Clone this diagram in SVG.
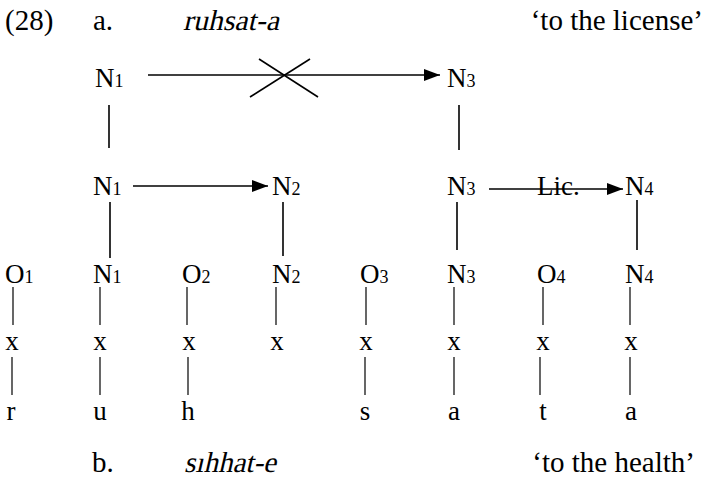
<svg xmlns="http://www.w3.org/2000/svg" width="707" height="477" viewBox="0 0 707 477">
<style>
text{font-family:"Liberation Serif","Times New Roman",serif;font-size:27px;fill:#000}
.h{font-size:29px}
.sub{font-size:18px}
.c{text-anchor:middle}
line{stroke:#000;stroke-width:1.6}
.thin{stroke-width:1.2}
</style>
<defs>
<marker id="ah" viewBox="0 0 16 12" refX="16" refY="6" markerWidth="16" markerHeight="12" markerUnits="userSpaceOnUse" orient="auto">
<path d="M0,0 L16,6 L0,12 Z" fill="#000"/>
</marker>
</defs>
<g id="heading">
<text x="5" y="30" class="h">(28)</text>
<text x="93" y="30" class="h">a.</text>
<g transform="translate(183,30) skewX(-13)"><text x="0" y="0" class="h" textLength="96" lengthAdjust="spacingAndGlyphs">ruhsat-a</text></g>
<text x="703" y="30" text-anchor="end" class="h">‘to the license’</text>
</g>
<g id="top-N1"><text x="95" y="87">N<tspan class="sub">1</tspan></text></g>
<g id="top-N3"><text x="447" y="87">N<tspan class="sub">3</tspan></text></g>
<g id="mid-N1"><text x="93" y="195">N<tspan class="sub">1</tspan></text></g>
<g id="mid-N2"><text x="272" y="195">N<tspan class="sub">2</tspan></text></g>
<g id="mid-N3"><text x="447" y="195">N<tspan class="sub">3</tspan></text></g>
<g id="mid-N4"><text x="625" y="195">N<tspan class="sub">4</tspan></text></g>
<g id="lic"><text x="537" y="195">Lic.</text></g>
<g id="row3">
<text x="5" y="283">O<tspan class="sub">1</tspan></text>
<text x="93" y="283">N<tspan class="sub">1</tspan></text>
<text x="182" y="283">O<tspan class="sub">2</tspan></text>
<text x="272" y="283">N<tspan class="sub">2</tspan></text>
<text x="360" y="283">O<tspan class="sub">3</tspan></text>
<text x="447" y="283">N<tspan class="sub">3</tspan></text>
<text x="537" y="283">O<tspan class="sub">4</tspan></text>
<text x="625" y="283">N<tspan class="sub">4</tspan></text>
</g>
<g id="xrow">
<text x="12" y="350" class="c">x</text>
<text x="100" y="350" class="c">x</text>
<text x="189" y="350" class="c">x</text>
<text x="277" y="350" class="c">x</text>
<text x="366" y="350" class="c">x</text>
<text x="454" y="350" class="c">x</text>
<text x="543" y="350" class="c">x</text>
<text x="631" y="350" class="c">x</text>
</g>
<g id="segments">
<text x="11" y="420" class="c">r</text>
<text x="100" y="420" class="c">u</text>
<text x="188" y="420" class="c">h</text>
<text x="365" y="420" class="c">s</text>
<text x="454" y="420" class="c">a</text>
<text x="543" y="420" class="c">t</text>
<text x="631" y="420" class="c">a</text>
</g>
<g id="example-b">
<text x="92" y="472" class="h">b.</text>
<g transform="translate(184,472) skewX(-13)"><text x="0" y="0" class="h" textLength="92" lengthAdjust="spacingAndGlyphs">sıhhat-e</text></g>
<text x="695" y="472" text-anchor="end" class="h">‘to the health’</text>
</g>
<g id="connectors">
<line x1="148" y1="75" x2="440" y2="75" marker-end="url(#ah)"/>
<line x1="250" y1="97" x2="310" y2="59"/>
<line x1="259" y1="59" x2="318" y2="97"/>
<line x1="109" y1="105" x2="109" y2="148"/>
<line x1="459" y1="105" x2="459" y2="150"/>
<line x1="133" y1="186" x2="268" y2="186" marker-end="url(#ah)"/>
<line x1="489" y1="189" x2="623" y2="189" marker-end="url(#ah)"/>
<line x1="110" y1="202" x2="110" y2="258"/>
<line x1="283" y1="202" x2="283" y2="256"/>
<line x1="457" y1="202" x2="457" y2="250"/>
<line x1="637" y1="200" x2="637" y2="250"/>
<g class="thin">
<line x1="13" y1="287" x2="13" y2="325" class="thin"/>
<line x1="100" y1="287" x2="100" y2="325" class="thin"/>
<line x1="187" y1="287" x2="187" y2="325" class="thin"/>
<line x1="276" y1="287" x2="276" y2="325" class="thin"/>
<line x1="366" y1="287" x2="366" y2="325" class="thin"/>
<line x1="454" y1="287" x2="454" y2="325" class="thin"/>
<line x1="543" y1="287" x2="543" y2="325" class="thin"/>
<line x1="630" y1="287" x2="630" y2="325" class="thin"/>
<line x1="12" y1="357" x2="12" y2="395" class="thin"/>
<line x1="100" y1="357" x2="100" y2="395" class="thin"/>
<line x1="188" y1="357" x2="188" y2="395" class="thin"/>
<line x1="365" y1="357" x2="365" y2="395" class="thin"/>
<line x1="454" y1="357" x2="454" y2="395" class="thin"/>
<line x1="540" y1="357" x2="540" y2="395" class="thin"/>
<line x1="630" y1="357" x2="630" y2="395" class="thin"/>
</g>
</g>
</svg>
